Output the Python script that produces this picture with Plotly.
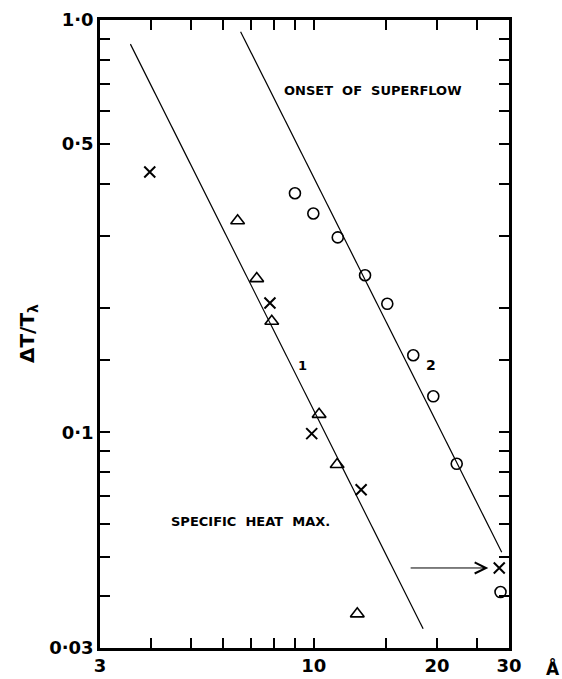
import numpy as np
import plotly.graph_objects as go

# ---- data ----
cross_x = [3.97, 7.81, 9.88, 13.05, 28.4]
cross_y = [0.428, 0.206, 0.0993, 0.0726, 0.0469]

tri_x = [6.51, 7.25, 7.89, 10.3, 11.4, 12.77]
tri_y = [0.326, 0.236, 0.186, 0.1106, 0.0836, 0.0363]

circ_x = [8.99, 9.97, 11.44, 13.34, 15.12, 17.5, 19.59, 22.35, 28.6]
circ_y = [0.380, 0.3395, 0.297, 0.2405, 0.205, 0.1538, 0.1223, 0.0839, 0.041]

line1_x = [3.56, 18.5]
line1_y = [0.874, 0.0334]
line2_x = [6.62, 28.8]
line2_y = [0.937, 0.0512]

x_tickvals = [3, 4, 5, 6, 7, 8, 9, 10, 15, 20, 25, 30]
x_ticktext = ["3", "", "", "", "", "", "", "10", "", "20", "", "30"]
y_tickvals = [0.03, 0.04, 0.05, 0.06, 0.07, 0.08, 0.09, 0.1, 0.15, 0.2,
              0.3, 0.4, 0.5, 0.6, 0.7, 0.8, 0.9, 1.0]
y_ticktext = ["0·03", "", "", "", "", "", "", "0·1", "", "", "", "", "0·5",
              "", "", "", "", "1·0"]

arrow_tail = (17.1, 0.0469)
arrow_head = (26.7, 0.0469)

FONT = "DejaVu Sans"

fig = go.Figure()
fig.add_trace(go.Scatter(x=line1_x, y=line1_y, mode="lines",
                         line=dict(color="black", width=1.2), showlegend=False))
fig.add_trace(go.Scatter(x=line2_x, y=line2_y, mode="lines",
                         line=dict(color="black", width=1.2), showlegend=False))
fig.add_trace(go.Scatter(x=circ_x, y=circ_y, mode="markers",
                         marker=dict(symbol="circle-open", size=11, color="black",
                                     line=dict(width=1.6, color="black")),
                         showlegend=False))
fig.add_trace(go.Scatter(x=tri_x, y=tri_y, mode="markers",
                         marker=dict(symbol="triangle-up-open", size=12, color="black",
                                     line=dict(width=1.6, color="black")),
                         showlegend=False))
fig.add_trace(go.Scatter(x=cross_x, y=cross_y, mode="markers",
                         marker=dict(symbol="x-thin-open", size=11, color="black",
                                     line=dict(width=2, color="black")),
                         showlegend=False))

axis_common = dict(
    showline=True, linewidth=2.5, linecolor="black", mirror="ticks",
    ticks="inside", ticklen=10, tickwidth=1.6, tickcolor="black",
    showgrid=False, zeroline=False, automargin=False,
    tickfont=dict(family=FONT, size=18, color="black", weight="bold"),
)

fig.update_xaxes(type="log", range=[np.log10(3), np.log10(30)],
                 tickvals=x_tickvals, ticktext=x_ticktext, **axis_common)
fig.update_yaxes(type="log", range=[np.log10(0.03), 0],
                 tickvals=y_tickvals, ticktext=y_ticktext, **axis_common)

ann_font = dict(family=FONT, size=13, color="black", weight="bold")
fig.add_annotation(x=np.log10(13.95), y=np.log10(0.676), xref="x", yref="y",
                   text="ONSET  OF  SUPERFLOW", showarrow=False, font=ann_font)
fig.add_annotation(x=np.log10(7.0), y=np.log10(0.0608), xref="x", yref="y",
                   text="SPECIFIC  HEAT  MAX.", showarrow=False, font=ann_font)
fig.add_annotation(x=np.log10(9.39), y=np.log10(0.1455), xref="x", yref="y",
                   text="1", showarrow=False,
                   font=dict(family=FONT, size=13, color="black", weight="bold"))
fig.add_annotation(x=np.log10(19.3), y=np.log10(0.1455), xref="x", yref="y",
                   text="2", showarrow=False,
                   font=dict(family=FONT, size=14, color="black", weight="bold"))

fig.add_annotation(x=np.log10(arrow_head[0]), y=np.log10(arrow_head[1]),
                   ax=np.log10(arrow_tail[0]), ay=np.log10(arrow_tail[1]),
                   xref="x", yref="y", axref="x", ayref="y",
                   text="", showarrow=True, arrowhead=5, arrowsize=2.2,
                   arrowwidth=1, arrowcolor="black")

fig.add_annotation(xref="paper", yref="paper", x=0, y=0.50, xshift=-72,
                   xanchor="center", yanchor="middle",
                   text="ΔT/T<sub>λ</sub>", textangle=-90, showarrow=False,
                   font=dict(family=FONT, size=20, color="black", weight="bold"))
fig.add_annotation(xref="paper", yref="paper", x=1, y=0, xshift=44, yshift=-20,
                   xanchor="center", yanchor="middle",
                   text="Å", showarrow=False,
                   font=dict(family=FONT, size=17, color="black", weight="bold"))

fig.update_layout(
    width=562, height=679,
    margin=dict(l=100, r=53, t=20, b=31, autoexpand=False),
    plot_bgcolor="white", paper_bgcolor="white",
)

# remove the default 8px body margin of the page so the figure fills the window
fig.write_html("out.html",
               config={"displayModeBar": False},
               post_script="document.body.style.margin='0px';"
                           "document.body.style.overflow='hidden';")
